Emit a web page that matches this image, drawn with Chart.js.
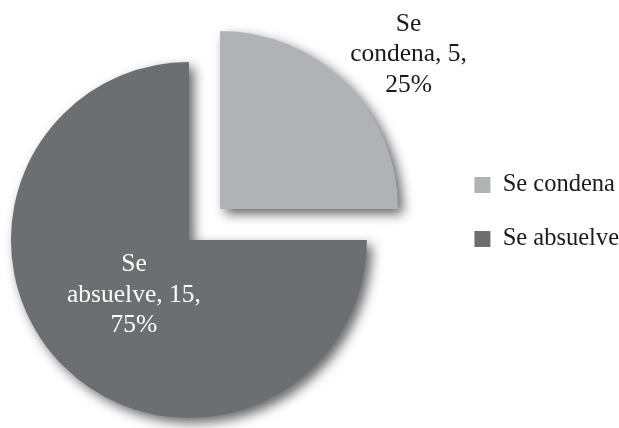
<!DOCTYPE html>
<html>
<head>
<meta charset="utf-8">
<script src="https://cdn.jsdelivr.net/npm/chart.js@4"></script>
<style>
html, body { margin: 0; padding: 0; background: #ffffff; }
#wrap { width: 619px; height: 428px; position: relative; }
#fontprobe { position: absolute; left: -9999px; top: 0; font: 24px 'Liberation Serif'; }
</style>
</head>
<body>
<div id="wrap"><canvas id="c" width="619" height="428"></canvas></div>
<span id="fontprobe">Se condena absuelve 0123456789%</span>
<script>
// ---- data ----
const categories = ['Se condena', 'Se absuelve'];
const counts = [5, 15];
const sliceColors = ['#b1b2b5', '#6d6e71'];
const labelColors = ['#1a1a1a', '#ffffff'];
const explode = [176, 0];

// ---- styling / placement (not data) ----
const FONT = "'Liberation Serif', 'Times New Roman', serif";
const labelPlacement = [
  { dx: 1.059, dy: -0.868 },
  { dx: -0.309, dy: 0.309 }
];
const labelLineHeight = 30.5;

const shadowPlugin = {
  id: 'sliceShadow',
  beforeDatasetsDraw(chart) {
    const ctx = chart.ctx;
    ctx.save();
    ctx.shadowColor = 'rgba(0,0,0,0.6)';
    ctx.shadowBlur = 12;
    ctx.shadowOffsetX = 5;
    ctx.shadowOffsetY = 5;
  },
  afterDatasetsDraw(chart) {
    chart.ctx.restore();
  }
};

const dataLabelPlugin = {
  id: 'sliceLabels',
  afterDraw(chart) {
    const ctx = chart.ctx;
    const meta = chart.getDatasetMeta(0);
    const data = chart.data.datasets[0].data;
    const total = data.reduce((a, b) => a + b, 0);
    ctx.save();
    ctx.font = '25.5px ' + FONT;
    ctx.textAlign = 'center';
    ctx.textBaseline = 'middle';
    meta.data.forEach((arc, i) => {
      const p = arc.getProps(['x', 'y', 'startAngle', 'endAngle', 'outerRadius'], true);
      const mid = (p.startAngle + p.endAngle) / 2;
      const off = (explode[i] || 0) / 4;
      const cx = p.x + Math.cos(mid) * off;
      const cy = p.y + Math.sin(mid) * off;
      const lx = cx + labelPlacement[i].dx * p.outerRadius;
      const ly = cy + labelPlacement[i].dy * p.outerRadius;
      const pct = Math.round(data[i] / total * 100) + '%';
      const words = categories[i].split(' ');
      const lines = [words[0], words.slice(1).join(' ') + ', ' + data[i] + ',', pct];
      ctx.fillStyle = labelColors[i];
      lines.forEach((t, k) => {
        ctx.fillText(t, lx, ly + (k - 1) * labelLineHeight);
      });
    });
    ctx.restore();
  }
};

// empty layout box that keeps the pie to the left of the legend
const spacerPlugin = {
  id: 'legendSpacer',
  beforeInit(chart) {
    const box = {
      id: 'legendSpacer',
      position: 'right',
      weight: 0,
      fullSize: false,
      options: { display: false },
      left: 0, top: 0, right: 0, bottom: 0, width: 0, height: 0,
      isHorizontal() { return false; },
      update(maxWidth, maxHeight) { this.width = 67; this.height = maxHeight; },
      draw() {}
    };
    Chart.layouts.addBox(chart, box);
  }
};

function drawChart() {
  new Chart(document.getElementById('c'), {
    type: 'pie',
    data: {
      labels: categories,
      datasets: [{
        data: counts,
        backgroundColor: sliceColors,
        borderWidth: 0,
        offset: explode
      }]
    },
    options: {
      responsive: false,
      animation: false,
      events: [],
      devicePixelRatio: 1,
      radius: 178,
      layout: { padding: { left: 0, right: -10, top: 0, bottom: 4 } },
      plugins: {
        title: {
          display: true,
          text: '',
          fullSize: false,
          padding: { top: 46, bottom: 0 },
          font: { size: 10, lineHeight: 1 }
        },
        legend: {
          position: 'right',
          labels: {
            boxWidth: 16,
            boxHeight: 16,
            padding: 29.5,
            color: '#1a1a1a',
            font: { family: FONT, size: 24.5 }
          }
        },
        tooltip: { enabled: false }
      }
    },
    plugins: [spacerPlugin, shadowPlugin, dataLabelPlugin]
  });
}

if (document.fonts && document.fonts.load) {
  document.fonts.load("25px 'Liberation Serif'").then(drawChart, drawChart);
} else {
  drawChart();
}
</script>
</body>
</html>
